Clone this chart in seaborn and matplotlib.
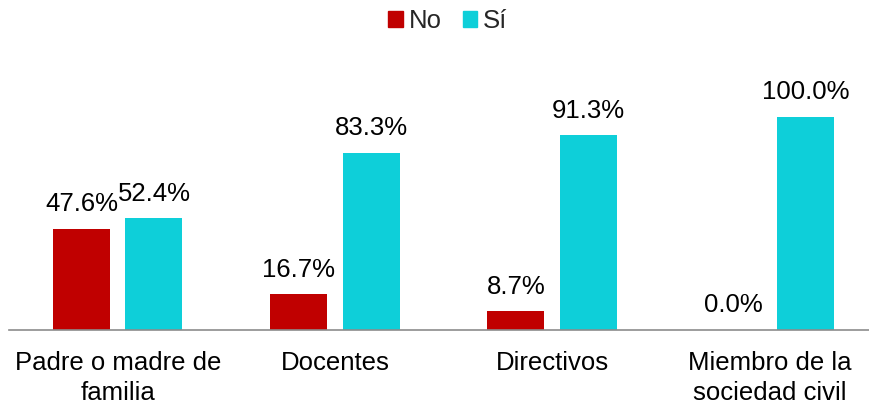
import matplotlib
matplotlib.use("Agg")
import matplotlib.pyplot as plt
import matplotlib.patches as mpatches
import seaborn as sns
import pandas as pd

# ============ DATA ============
categorias = ["Padre o madre de\nfamilia", "Docentes", "Directivos",
              "Miembro de la\nsociedad civil"]
valores_no = [47.6, 16.7, 8.7, 0.0]
valores_si = [52.4, 83.3, 91.3, 100.0]
series = ["No", "Sí"]
colores = {"No": "#C00000", "Sí": "#0ECFD9"}

df = pd.DataFrame({
    "categoria": categorias * 2,
    "respuesta": ["No"] * len(categorias) + ["Sí"] * len(categorias),
    "valor": valores_no + valores_si,
})

# ============ ESTILO ============
sns.set_style("white")
plt.rcParams['font.family'] = ['Liberation Sans', 'DejaVu Sans']
FS = 18.5

fig = plt.figure(figsize=(8.69, 4.05), dpi=100)
ax = fig.add_axes([9 / 869, 75 / 405, 860 / 869, 277 / 405])

sns.barplot(data=df, x="categoria", y="valor", hue="respuesta",
            hue_order=series, order=categorias, palette=colores,
            saturation=1, linewidth=0, width=0.668, gap=0.214,
            ax=ax, legend=False)

# etiquetas de valor
for cont in ax.containers:
    for bar in cont:
        h = bar.get_height()
        ax.annotate(f"{h:.1f}%", (bar.get_x() + bar.get_width() / 2, h),
                    xytext=(0, 9), textcoords="offset points",
                    ha="center", va="bottom", fontsize=FS, color="black")

ax.set_xlim(-0.5005, 3.459)
ax.set_ylim(0, 130)
ax.set_xlabel("")
ax.set_ylabel("")
ax.set_yticks([])
ax.tick_params(axis="x", length=0, pad=15, labelsize=FS, colors="black")
for lbl in ax.get_xticklabels():
    lbl.set_linespacing(1.3)
for s in ["top", "right", "left"]:
    ax.spines[s].set_visible(False)
ax.spines["bottom"].set_color("#8C8C8C")
ax.spines["bottom"].set_linewidth(1.2)

# ============ LEYENDA ============
handles = [mpatches.Patch(color=colores[s], label=s) for s in series]
fig.legend(handles=handles, loc="center", bbox_to_anchor=(448 / 869, 1 - 21 / 405),
           ncol=2, frameon=False, fontsize=FS, handlelength=0.55,
           handleheight=0.55, handletextpad=0.25, columnspacing=0.8)

plt.savefig("out.png", dpi=100)
